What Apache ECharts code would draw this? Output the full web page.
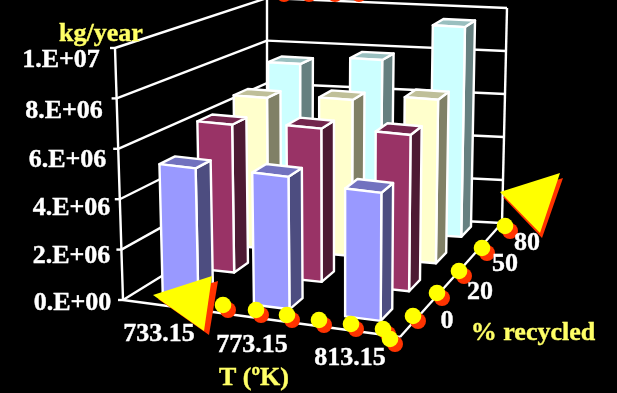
<!DOCTYPE html>
<html><head><meta charset="utf-8">
<style>html,body{margin:0;padding:0;background:#000}#c{width:617px;height:393px}</style>
<script src="https://cdn.jsdelivr.net/npm/echarts@6/dist/echarts.min.js"></script>
</head><body><div id="c"></div>
<script>
const temps = ['733.15','773.15','813.15'];
const recycled = ['0','20','50','80'];
const yTicks = [0,2e6,4e6,6e6,8e6,1e7];
const yTickLabels = ['0.E+00','2.E+06','4.E+06','6.E+06','8.E+06','1.E+07'];
const values0  = [5.3e6,5.4e6,5.2e6];
const values20 = [6.3e6,6.5e6,6.6e6];
const values50 = [6.7e6,6.9e6,7.2e6];
const values80 = [7.5e6,7.9e6,9.6e6];
const rows = [values0,values20,values50,values80];
const faceColors = [
 {front:'#9999FF',top:'#7272BF',side:'#4D4D80'},
 {front:'#993366',top:'#73264D',side:'#4D1A33'},
 {front:'#FFFFCC',top:'#BFBF99',side:'#808066'},
 {front:'#CCFFFF',top:'#99BFBF',side:'#668080'}];
const GW=300,GH=100,BARX=0.39,BARY=0.4,DEPTHK=0.12,BASEW=0.012,LW=2.4;

function bilinear(q){
  const [a,b,c,d]=q; // (0,0),(1,0),(1,1),(0,1)
  return (u,v)=>[0,1].map(k=>(1-u)*(1-v)*a[k]+u*(1-v)*b[k]+u*v*c[k]+(1-u)*v*d[k]);
}
const floorH=bilinear([[123,300],[400,337],[502,223],[267,211]]);
const ceilH=bilinear([[115,48],[402,81],[507,8],[267,-2]]);
function project(u,v0,w){
  const v=v0*(1+DEPTHK)/(1+DEPTHK*v0);
  const p=floorH(u,v),q=ceilH(u,v);
  return [p[0]+(q[0]-p[0])*w,p[1]+(q[1]-p[1])*w];
}
const lineStyle={stroke:'#fff',lineWidth:LW,fill:null};
function seg(a,b){return {type:'line',shape:{x1:a[0],y1:a[1],x2:b[0],y2:b[1]},style:lineStyle,silent:true};}

function renderWalls(params,api){
  const w=(GH-api.coord([0,api.value(0)])[1])/GH;
  const kids=[seg(project(0,0,w),project(0,1,w)),seg(project(0,1,w),project(1,1,w))];
  const t=project(0,0,w);
  kids.push(seg([t[0]-5,t[1]],t));
  if(api.value(0)===0){
    kids.push(seg(project(0,0,0),project(1,0,0)));
    kids.push(seg(project(1,0,0),project(1,1,0)));
    kids.push(seg(project(0,0,0),project(0,0,1)));
    kids.push(seg(project(0,1,0),project(0,1,1)));
    kids.push(seg(project(1,1,0),project(1,1,1)));
  }
  return {type:'group',children:kids};
}
function renderBar(row){
  return function(params,api){
    const c=api.coord([api.value(0),api.value(1)]);
    const hw=api.size([1,0])[0]/GW*BARX/2;
    const u=c[0]/GW,w=(GH-c[1])/GH;
    const v=(row+0.5)/recycled.length,hd=BARY/recycled.length/2;
    const u0=u-hw,u1=u+hw,v0=v-hd,v1=v+hd,b=BASEW;
    const col=faceColors[row];
    const poly=(pts,fill)=>({type:'polygon',shape:{points:pts},silent:true,
      style:{fill:fill,stroke:'#fff',lineWidth:LW,lineJoin:'round'}});
    return {type:'group',children:[
      poly([project(u1,v0,b),project(u1,v1,b),project(u1,v1,w),project(u1,v0,w)],col.side),
      poly([project(u0,v0,w),project(u1,v0,w),project(u1,v1,w),project(u0,v1,w)],col.top),
      poly([project(u0,v0,b),project(u1,v0,b),project(u1,v0,w),project(u0,v0,w)],col.front)
    ]};
  };
}
const series=[{type:'custom',renderItem:renderWalls,data:yTicks.map(v=>[v]),encode:{y:0},silent:true,z:1}];
rows.slice().reverse().forEach((vals,k)=>{
  const row=rows.length-1-k;
  series.push({type:'custom',name:recycled[row],renderItem:renderBar(row),silent:true,z:2+k,
    data:vals.map((v,i)=>[i,v]),encode:{x:0,y:1}});
});

const serif='"Liberation Serif","Times New Roman",serif';
const graphic=[];
function txt(s,x,y,color){
  graphic.push({type:'text',x:x,y:y+1.5,z:50,silent:true,style:{text:s,fill:color,stroke:color,lineWidth:0.4,font:'bold 26px '+serif,align:'center',verticalAlign:'middle'}});
}
const yLabelPos=[[72.5,302],[71.5,255],[71.5,207],[67.5,159],[64,110],[61,59]];
yTickLabels.forEach((s,i)=>txt(s,yLabelPos[i][0],yLabelPos[i][1],'#fff'));
const tLabelPos=[[159,333],[252,344],[350,357]];
temps.forEach((s,i)=>txt(s,tLabelPos[i][0],tLabelPos[i][1],'#fff'));
const rLabelPos=[[447,320],[480,291],[505,263],[527,242]];
recycled.forEach((s,i)=>txt(s,rLabelPos[i][0],rLabelPos[i][1],'#fff'));
txt('kg/year',101,33,'#FFFF66');
txt('T (ºK)',254,377,'#FFFF66');
txt('% recycled',533,332,'#FFFF66');

// decorative dots and arrowheads
const dots=[[223,305],[256,310],[287,315],[319,320],[351,324],[383,329],[390,339],
 [413,316],[437,293],[459,271],[482,248],[505,226],[279,-11],[304,-11],[330,-11],[354,-11]];
dots.forEach(d=>graphic.push({type:'circle',z:40,silent:true,shape:{cx:d[0]+5,cy:d[1]+5,r:8},style:{fill:'#FF3300'}}));
dots.forEach(d=>graphic.push({type:'circle',z:41,silent:true,shape:{cx:d[0],cy:d[1],r:8.3},style:{fill:'#FFFF00'}}));
const tri=(pts,fill,z)=>graphic.push({type:'polygon',z:z,silent:true,shape:{points:pts},style:{fill:fill}});
tri([[158,299],[218,281],[209,335]],'#FF3300',42);
tri([[153,295],[212,276],[204,331]],'#FFFF00',43);
tri([[503,197],[563,178],[542,238]],'#FF3300',42);
tri([[500,192],[560,173],[540,233]],'#FFFF00',43);

const chart=echarts.init(document.getElementById('c'),null,{renderer:'canvas'});
chart.setOption({
  backgroundColor:'#000',animation:false,
  grid:{left:0,top:0,width:GW,height:GH},
  xAxis:{type:'category',data:temps,show:false},
  yAxis:{type:'value',min:0,max:1e7,show:false},
  graphic:{elements:graphic},
  series:series
});
</script></body></html>
